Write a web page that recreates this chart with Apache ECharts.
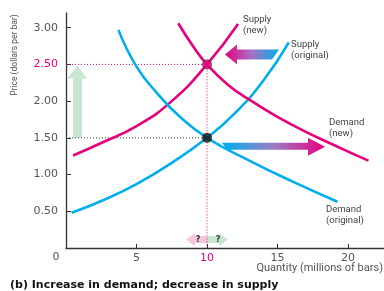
<!DOCTYPE html>
<html>
<head>
<meta charset="utf-8">
<script src="https://cdn.jsdelivr.net/npm/echarts@6/dist/echarts.min.js"></script>
<style>
  html, body { margin: 0; padding: 0; background: #fff; }
  #chart { width: 384px; height: 291px; }
</style>
</head>
<body>
<div id="chart"></div>
<script>
// curves: [quantity, price]
const supplyOriginal = [[0.4, 0.48], [2.5, 0.64], [5, 0.87], [7.5, 1.16], [10, 1.5], [12, 1.84], [14, 2.28], [15.8, 2.8]];
const supplyNew = [[0.5, 1.26], [2.5, 1.43], [5, 1.66], [7.5, 2.0], [10, 2.5], [12.2, 3.05]];
const demandOriginal = [[3.72, 2.97], [5, 2.47], [6.5, 2.1], [8, 1.8], [10, 1.5], [13, 1.19], [16, 0.91], [19.25, 0.63]];
const demandNew = [[7.96, 3.06], [9, 2.75], [10, 2.5], [11.5, 2.22], [13, 2.02], [16, 1.68], [19.7, 1.34], [21.45, 1.19]];
const oldEquilibrium = [10, 1.5];
const newEquilibrium = [10, 2.5];
const xTicks = [5, 10, 15, 20];
const yTicks = [0.5, 1, 1.5, 2, 2.5, 3];

const BLUE = '#00aeef';
const PINK = '#e6007e';
const GREEN = '#c9e6d3';
const LIGHTPINK = '#f6c6dc';
const TEXT = '#555';

const chart = echarts.init(document.getElementById('chart'));

const curve = (name, data, color) => ({
  name: name,
  type: 'line',
  data: data,
  smooth: 0.5,
  showSymbol: false,
  lineStyle: { color: color, width: 2.6 },
  z: 3
});

let option = {
  animation: false,
  grid: { left: 66, right: 0, top: 13, bottom: 43, outerBoundsMode: 'none' },
  xAxis: {
    type: 'value',
    min: 0,
    max: 22.55,
    axisLine: { lineStyle: { color: '#333', width: 1.3 } },
    axisTick: { inside: true, length: 4, customValues: xTicks, lineStyle: { color: '#333' } },
    axisLabel: {
      customValues: xTicks,
      fontFamily: 'DejaVu Sans',
      fontSize: 11,
      margin: 5,
      color: (v) => (v == 10 ? PINK : TEXT)
    },
    splitLine: { show: false }
  },
  yAxis: {
    type: 'value',
    min: 0,
    max: 3.2,
    axisLine: { lineStyle: { color: '#333', width: 1.3 } },
    axisTick: { inside: true, length: 5, customValues: yTicks, lineStyle: { color: '#333' } },
    axisLabel: {
      customValues: yTicks,
      fontFamily: 'DejaVu Sans',
      fontSize: 11,
      margin: 8,
      formatter: (v) => v.toFixed(2),
      color: (v) => (Math.abs(v - 2.5) < 1e-6 ? PINK : TEXT)
    },
    splitLine: { show: false }
  },
  series: [
    {
      type: 'line',
      data: [[0, newEquilibrium[1]], newEquilibrium, [newEquilibrium[0], 0]],
      showSymbol: false,
      lineStyle: { color: PINK, width: 1, type: [1, 2] },
      z: 2
    },
    {
      type: 'line',
      data: [[0, oldEquilibrium[1]], oldEquilibrium],
      showSymbol: false,
      lineStyle: { color: '#444', width: 1, type: [1, 2] },
      z: 2
    },
    curve('Supply (original)', supplyOriginal, BLUE),
    curve('Supply (new)', supplyNew, PINK),
    curve('Demand (original)', demandOriginal, BLUE),
    curve('Demand (new)', demandNew, PINK),
    {
      type: 'scatter',
      data: [oldEquilibrium],
      symbolSize: 10,
      itemStyle: { color: '#111' },
      z: 5
    },
    {
      type: 'scatter',
      data: [newEquilibrium],
      symbolSize: 9,
      itemStyle: { color: PINK, borderColor: '#333', borderWidth: 1 },
      z: 5
    }
  ]
};
chart.setOption(option);

// annotations positioned from data coordinates
const px = (x, y) => chart.convertToPixel({ gridIndex: 0 }, [x, y]);
const [x0, y0] = px(0, 0);
const [xe, yHi] = px(newEquilibrium[0], newEquilibrium[1]);
const [, yLo] = px(oldEquilibrium[0], oldEquilibrium[1]);

const label = (x, y, text) => ({
  type: 'text',
  x: x, y: y,
  style: { text: text, fontFamily: 'Roboto', fontSize: 9.5, fill: '#444', lineHeight: 11 }
});

const grad = (c1, c2, c3) => new echarts.graphic.LinearGradient(0, 0, 1, 0, [
  { offset: 0, color: c1 }, { offset: 0.5, color: c2 }, { offset: 1, color: c3 }
]);

const graphics = [
  // green upward arrow from 1.50 to 2.50
  {
    type: 'polygon',
    shape: { points: [[x0 + 7, yLo], [x0 + 16, yLo], [x0 + 16, yHi + 14], [x0 + 21, yHi + 14], [x0 + 11.5, yHi + 1], [x0 + 1, yHi + 14], [x0 + 7, yHi + 14]] },
    style: { fill: GREEN },
    z: 1
  },
  // leftward arrow (supply decreases)
  {
    type: 'polygon',
    shape: { points: [[xe + 18, yHi - 10], [xe + 30, yHi - 20], [xe + 30, yHi - 15], [xe + 72, yHi - 15], [xe + 65, yHi - 5], [xe + 30, yHi - 5], [xe + 30, yHi]] },
    style: { fill: grad(PINK, '#a274c4', BLUE) },
    z: 1
  },
  // rightward arrow (demand increases)
  {
    type: 'polygon',
    shape: { points: [[xe + 15, yLo + 5], [xe + 101, yLo + 5], [xe + 101, yLo], [xe + 118, yLo + 9], [xe + 101, yLo + 18], [xe + 101, yLo + 12], [xe + 20, yLo + 12]] },
    style: { fill: grad(BLUE, '#9a7cc6', PINK) },
    z: 1
  },
  // quantity change is ambiguous
  {
    type: 'polygon',
    shape: { points: [[xe - 21, y0 - 8.5], [xe - 12, y0 - 15], [xe - 12, y0 - 12], [xe, y0 - 12], [xe, y0 - 5], [xe - 12, y0 - 5], [xe - 12, y0 - 2]] },
    style: { fill: LIGHTPINK },
    z: 1
  },
  {
    type: 'polygon',
    shape: { points: [[xe + 21, y0 - 8.5], [xe + 12, y0 - 15], [xe + 12, y0 - 12], [xe, y0 - 12], [xe, y0 - 5], [xe + 12, y0 - 5], [xe + 12, y0 - 2]] },
    style: { fill: GREEN },
    z: 1
  },
  { type: 'text', x: xe - 9, y: y0 - 8.5, style: { text: '?', fontFamily: 'DejaVu Sans', fontWeight: 'bold', fontSize: 8, fill: '#333', align: 'center', verticalAlign: 'middle' }, z: 6 },
  { type: 'text', x: xe + 11, y: y0 - 8.5, style: { text: '?', fontFamily: 'DejaVu Sans', fontWeight: 'bold', fontSize: 8, fill: '#333', align: 'center', verticalAlign: 'middle' }, z: 6 },
  // origin label
  { type: 'text', x: x0 - 10, y: y0 + 9, style: { text: '0', fontFamily: 'DejaVu Sans', fontSize: 11, fill: TEXT, align: 'center', verticalAlign: 'middle' } },
  // axis titles
  {
    type: 'text', x: 15, y: 55, rotation: Math.PI / 2,
    style: { text: 'Price (dollars per bar)', fontFamily: 'Roboto', fontSize: 8.5, fill: TEXT, align: 'center', verticalAlign: 'middle' }
  },
  {
    type: 'text', x: 383, y: 268,
    style: { text: 'Quantity (millions of bars)', fontFamily: 'Roboto', fontSize: 11, fill: TEXT, align: 'right', verticalAlign: 'middle' }
  },
  // curve labels
  label(243, 14, 'Supply\n(new)'),
  label(291, 39, 'Supply\n(original)'),
  label(329, 117, 'Demand\n(new)'),
  label(326, 204, 'Demand\n(original)'),
  // caption
  {
    type: 'text', x: 10, y: 285,
    style: { text: '(b) Increase in demand; decrease in supply', fontFamily: 'DejaVu Sans', fontWeight: 'bold', fontSize: 11, fill: '#111', verticalAlign: 'middle' }
  }
];
chart.setOption({ graphic: graphics });
</script>
</body>
</html>
